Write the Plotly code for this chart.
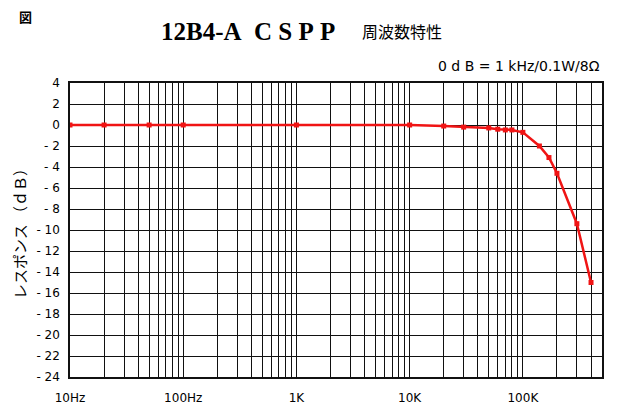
import numpy as np
import plotly.graph_objects as go

# Data (frequency in Hz, response in dB)
freq_hz = [10, 20, 50, 100, 1000, 10000, 20000, 30000, 50000, 60000, 70000, 80000,
           100000, 140000, 170000, 200000, 300000, 400000]
response_db = [0, 0, 0, 0, 0, 0, -0.1, -0.2, -0.28, -0.4, -0.47, -0.47,
               -0.7, -2.0, -3.1, -4.6, -9.4, -15.0]

x_decades = [10, 100, 1000, 10000, 100000]
x_decade_labels = ["10Hz", "100Hz", "1K", "10K", "100K"]
y_ticks = list(range(-24, 5, 2))

# grid positions: every 1..9 multiple within each decade up to 500k
grid_vals = []
grid_text = []
for d, lab in zip(x_decades, x_decade_labels):
    for m in range(1, 10):
        v = d * m
        if v > 500000:
            break
        grid_vals.append(v)
        grid_text.append(lab if m == 1 else "")
grid_vals.append(500000)
grid_text.append("")

y_text = [("- " + str(abs(v))) if v < 0 else str(v) for v in y_ticks]

# page is offset by the default 8px body margin; plot area in page px: x 68..602, y 83..377
PL, PW, PT, PH = 68, 534, 83, 294
def px(x):
    return (x - PL) / PW
def py(y):
    return (PT + PH - y) / PH

fig = go.Figure()
fig.add_trace(go.Scatter(
    x=freq_hz, y=response_db, mode="lines+markers",
    line=dict(color="#f01414", width=2.5),
    marker=dict(symbol="square", size=5, color="#f01414"),
    showlegend=False, hoverinfo="skip",
))

tick_font = dict(family="DejaVu Sans", size=12, color="#000")

fig.update_layout(
    width=612, height=412,
    margin=dict(l=60, r=18, t=75, b=43),
    paper_bgcolor="white", plot_bgcolor="white",
    xaxis=dict(
        type="log", range=[1, np.log10(500000)],
        tickmode="array", tickvals=grid_vals, ticktext=grid_text,
        showgrid=True, gridcolor="#111", gridwidth=1,
        showline=True, linecolor="#111", linewidth=1.5, mirror=True,
        ticks="", ticklabelstandoff=9, tickfont=tick_font, zeroline=False,
    ),
    yaxis=dict(
        range=[-24, 4], tickmode="array", tickvals=y_ticks, ticktext=y_text,
        showgrid=True, gridcolor="#111", gridwidth=1,
        showline=True, linecolor="#111", linewidth=1.5, mirror=True,
        ticks="", ticklabelstandoff=6, tickfont=tick_font, zeroline=False,
        title=dict(text="レスポンス （ｄＢ）", font=dict(family="Noto Sans CJK JP", size=15, color="#000"),
                   standoff=6),
    ),
    annotations=[
        dict(text="<b>図</b>", xref="paper", yref="paper", x=px(23), y=py(16),
             xanchor="center", yanchor="middle", showarrow=False,
             font=dict(family="Noto Sans CJK JP", size=13, color="#000")),
        dict(text="<b>12B4-A&nbsp;&nbsp;C&nbsp;S&nbsp;P&nbsp;P</b>", xref="paper", yref="paper",
             x=px(157), y=py(31),
             xanchor="left", yanchor="middle", showarrow=False,
             font=dict(family="Liberation Serif", size=25, color="#000")),
        dict(text="周波数特性", xref="paper", yref="paper", x=px(359), y=py(31),
             xanchor="left", yanchor="middle", showarrow=False,
             font=dict(family="Noto Sans CJK JP", size=16, color="#000")),
        dict(text="0 d B = 1 kHz/0.1W/8Ω", xref="paper", yref="paper", x=px(602), y=py(66),
             xanchor="right", yanchor="middle", showarrow=False,
             font=dict(family="DejaVu Sans", size=14, color="#000")),
    ],
)

fig.write_html("out.html")
